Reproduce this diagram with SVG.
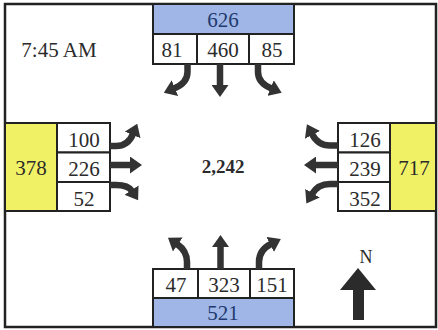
<svg xmlns="http://www.w3.org/2000/svg" width="438" height="330" viewBox="0 0 438 330" font-family="'Liberation Serif', 'DejaVu Serif', serif">
<style>
text{font-family:'Liberation Serif','DejaVu Serif',serif;text-anchor:middle;fill:#2b2b2b}
.n{font-size:21px}
.blue{fill:#9fb6e6;stroke:#222;stroke-width:2}
.yel{fill:#f1f166;stroke:#222;stroke-width:2}
.cell{fill:#fff;stroke:#222;stroke-width:2}
.bt{fill:#1f3a6e}
.arr{fill:none;stroke:#333;stroke-width:6.5;marker-end:url(#ah)}
</style>
<defs>
<marker id="ah" viewBox="0 0 12 17" refX="1" refY="8.5" markerWidth="12" markerHeight="17" markerUnits="userSpaceOnUse" orient="auto">
<polygon points="0,0 12,8.5 0,17" fill="#333"/>
</marker>
</defs>
<rect x="0" y="0" width="438" height="330" fill="#fff"/>
<rect x="5" y="4" width="431" height="323" fill="none" stroke="#222" stroke-width="2.5"/>
<text x="59" y="57" style="font-size:21px">7:45 AM</text>
<text x="223" y="173" style="font-size:19px;font-weight:bold">2,242</text>

<g id="north">
<rect x="153" y="4" width="141" height="30" class="blue"/>
<text x="223" y="26.5" class="n bt">626</text>
<rect x="153" y="34" width="44" height="30" class="cell"/>
<rect x="197" y="34" width="52" height="30" class="cell"/>
<rect x="249" y="34" width="45" height="30" class="cell"/>
<text x="172" y="56.5" class="n">81</text>
<text x="223" y="56.5" class="n">460</text>
<text x="272" y="56.5" class="n">85</text>
</g>

<g id="west">
<rect x="5" y="123" width="52" height="88" class="yel"/>
<text x="31" y="175" class="n">378</text>
<rect x="57" y="123" width="53" height="29.5" class="cell"/>
<rect x="57" y="152.5" width="53" height="29.5" class="cell"/>
<rect x="57" y="182" width="53" height="29" class="cell"/>
<text x="84" y="146.5" class="n">100</text>
<text x="84" y="176" class="n">226</text>
<text x="84" y="205.5" class="n">52</text>
</g>

<g id="east">
<rect x="390" y="123" width="46" height="88" class="yel"/>
<text x="414" y="175" class="n">717</text>
<rect x="338" y="123" width="52" height="29.5" class="cell"/>
<rect x="338" y="152.5" width="52" height="29.5" class="cell"/>
<rect x="338" y="182" width="52" height="29" class="cell"/>
<text x="365" y="146.5" class="n">126</text>
<text x="365" y="176" class="n">239</text>
<text x="365" y="205.5" class="n">352</text>
</g>

<g id="south">
<rect x="153" y="269" width="45" height="29" class="cell"/>
<rect x="198" y="269" width="52" height="29" class="cell"/>
<rect x="250" y="269" width="44" height="29" class="cell"/>
<text x="176" y="291.5" class="n">47</text>
<text x="224" y="291.5" class="n">323</text>
<text x="272" y="291.5" class="n">151</text>
<rect x="153" y="298" width="141" height="29" class="blue"/>
<text x="223" y="320" class="n bt">521</text>
</g>

<g id="compass">
<text x="366" y="263" style="font-size:18px">N</text>
<polygon points="358,268 376,290 364,290 364,320 353,320 353,290 340,290" fill="#2b2b2b"/>
</g>

<g id="connectors">
<path class="arr" d="M187.5,64 V72 Q187.5,83 174,88.5"/>
<path class="arr" d="M220,64 V86"/>
<path class="arr" d="M258,64 V72 Q258,83 271.5,88.5"/>
<path class="arr" d="M110,146 H116 Q128,146 133,134"/>
<path class="arr" d="M110,165 H131"/>
<path class="arr" d="M110,185 H116 Q128,185 132,191"/>
<path class="arr" d="M338,145.5 H330 Q318,145.5 312,134"/>
<path class="arr" d="M338,165 H315"/>
<path class="arr" d="M338,184 H330 Q318,184 312,194"/>
<path class="arr" d="M187,269 V262 Q187,251 177,244"/>
<path class="arr" d="M220.5,269 V246"/>
<path class="arr" d="M259,269 V262 Q259,250 271,244"/>
</g>
</svg>
